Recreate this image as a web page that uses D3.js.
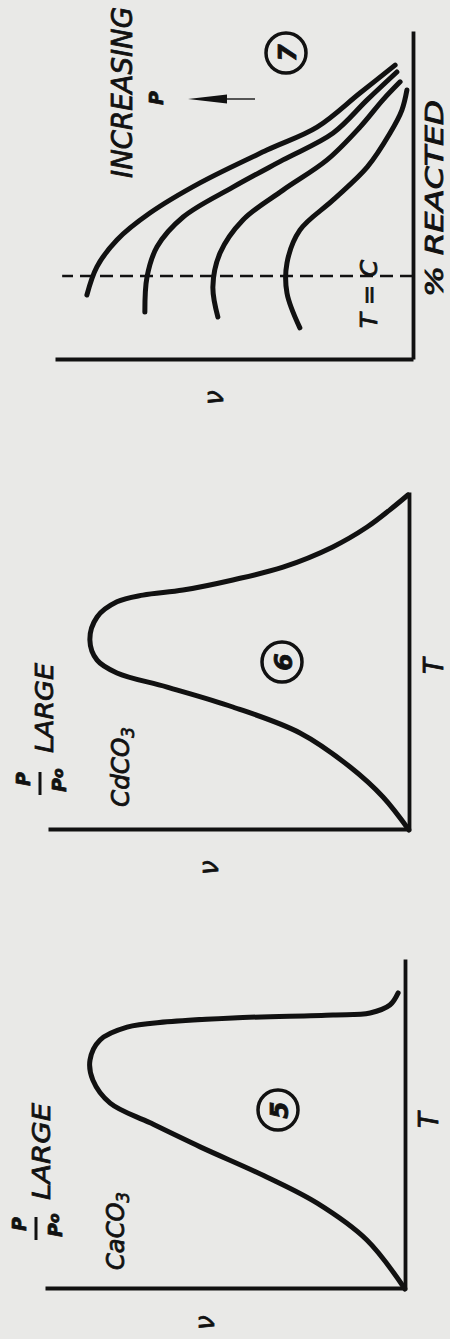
<!DOCTYPE html>
<html>
  <head>
    <meta charset="utf-8">
    <style>
      body { margin: 0; background: #e9e9e7; }
      svg { display: block; }
      .axis path { stroke: #111; stroke-width: 3.8; fill: none; }
      .curve { stroke: #111; stroke-width: 5; fill: none; stroke-linecap: round; }
      .lbl { font-family: "DejaVu Sans", sans-serif; font-style: italic; fill: #111; stroke: #111; stroke-width: 0.8; }
    </style>
    <script src="https://d3js.org/d3.v7.min.js"></script>
  </head>
  <body>
    <svg id="chart" width="450" height="1339"></svg>

    <script>
      // both axes in arbitrary units 0..100
      // panel 5: CaCO3, v against T
      var caT = [0, 14.9, 26.1, 34.0, 43.2, 50.5, 56.5, 63.5, 69.6, 75.7, 79.6, 81.2, 82.4, 83.3, 83.9, 86.3, 90.0];
      var caV = [0, 10.6, 24.4, 38.3, 56.9, 70.8, 81.9, 86.7, 87.5, 84.7, 77.2, 66.1, 47.8, 20.0, 9.7, 4.2, 1.9];
      // panel 6: CdCO3, v against T
      var cdT = [0, 9.8, 18.7, 28.8, 36.5, 42.4, 46.6, 50.4, 56.4, 63.2, 67.7, 69.7, 71.2, 74.2, 78.0, 84.0, 89.9, 95.0, 99.4];
      var cdV = [0, 7.2, 16.3, 30.2, 48.8, 67.0, 80.9, 86.4, 88.4, 86.4, 80.9, 73.7, 62.6, 48.8, 34.9, 21.1, 11.6, 5.3, 0.3];
      // panel 7: v against % reacted, one curve per pressure (lowest p first)
      var reacted = [
        [19.8, 28.4, 36.6, 44.8, 54.0, 64.0, 71.0, 81.4, 89.9],
        [14.6, 25.3, 34.5, 43.6, 52.7, 61.0, 69.2, 79.3, 87.8],
        [13.1, 22.3, 32.6, 42.7, 51.8, 61.0, 71.0, 79.3, 84.8],
        [9.8, 20.4, 29.6, 39.6, 48.8, 58.8, 69.2, 76.2, 82.3]
      ];
      var rateV = [
        [91.1, 88.3, 82.7, 73.5, 59.5, 40.8, 26.8, 14.8, 5.0],
        [74.9, 74.3, 71.5, 64.2, 50.3, 36.3, 22.3, 12.8, 4.5],
        [54.5, 55.9, 53.9, 47.5, 36.3, 24.0, 14.8, 8.4, 3.6],
        [31.6, 35.2, 35.2, 31.6, 22.3, 12.8, 6.4, 3.1, 1.7]
      ];
      var tConst = 25.6;   // T = C line, % reacted
      var tConstTop = 98;

      var svg = d3.select("#chart");

      // each panel is drawn upright and then turned a quarter turn, as printed
      function makePanel(ox, oy, tLen, vLen) {
        var g = svg.append("g").attr("transform", "translate(" + ox + "," + oy + ") rotate(-90)");
        var x = d3.scaleLinear().domain([0, 100]).range([0, tLen]);
        var y = d3.scaleLinear().domain([0, 100]).range([0, -vLen]);
        g.append("g").attr("class", "axis")
          .call(d3.axisBottom(x).tickValues([]).tickSizeOuter(0));
        g.append("g").attr("class", "axis")
          .call(d3.axisLeft(y).tickValues([]).tickSizeOuter(0));
        return { g: g, x: x, y: y };
      }

      function drawCurve(p, xs, ys) {
        var line = d3.line()
          .x(function(d) { return p.x(d[0]); })
          .y(function(d) { return p.y(d[1]); })
          .curve(d3.curveCatmullRom.alpha(0.5));
        p.g.append("path").attr("class", "curve").attr("d", line(d3.zip(xs, ys)));
      }

      function label(g, txt, x, y, size, len) {
        var t = g.append("text").attr("class", "lbl")
          .attr("x", x).attr("y", y)
          .style("font-size", size + "px")
          .text(txt);
        if (len) t.attr("textLength", len).attr("lengthAdjust", "spacingAndGlyphs");
        return t;
      }

      function circled(g, n, x, y) {
        g.append("circle").attr("cx", x).attr("cy", y).attr("r", 20)
          .attr("fill", "none").attr("stroke", "#111").attr("stroke-width", 3.5);
        label(g, n, x, y + 1, 25).attr("text-anchor", "middle")
          .attr("dominant-baseline", "central").style("font-weight", "bold");
      }

      function ratio(g, x0) {
        label(g, "P", x0 + 9, -379, 19).style("font-weight", "bold");
        g.append("line").attr("x1", x0).attr("x2", x0 + 23)
          .attr("y1", -369).attr("y2", -369)
          .attr("stroke", "#111").attr("stroke-width", 3);
        var t = label(g, "P", x0 + 3, -343, 19).style("font-weight", "bold");
        t.append("tspan").attr("dy", -3).style("font-size", "14px").text("o");
      }

      function formula(g, txt, x, y, len) {
        var t = label(g, txt, x, y, 25, len);
        t.append("tspan").attr("dy", 5).style("font-size", "17px").text("3");
      }

      // panel 5
      var p5 = makePanel(405, 1289, 329, 360);
      drawCurve(p5, caT, caV);
      label(p5.g, "T", 161, 33, 26);
      label(p5.g, "ν", -41, -191, 26);
      circled(p5.g, "5", 179, -127);
      formula(p5.g, "CaCO", 19, -281, 78);
      label(p5.g, "LARGE", 89, -355, 25, 97);
      ratio(p5.g, 49);

      // panel 6
      var p6 = makePanel(409, 830, 337, 361);
      drawCurve(p6, cdT, cdV);
      label(p6.g, "T", 156, 34, 26);
      label(p6.g, "ν", -45, -191, 26);
      circled(p6.g, "6", 168, -127);
      formula(p6.g, "CdCO", 23, -280, 80);
      label(p6.g, "LARGE", 77, -356, 25, 90);
      ratio(p6.g, 35);

      // panel 7
      var p7 = makePanel(413, 360, 328, 358);
      reacted.forEach(function(xs, i) { drawCurve(p7, xs, rateV[i]); });
      p7.g.append("line")
        .attr("x1", p7.x(tConst)).attr("x2", p7.x(tConst))
        .attr("y1", p7.y(0)).attr("y2", p7.y(tConstTop))
        .attr("stroke", "#111").attr("stroke-width", 2.4)
        .attr("stroke-dasharray", "13,7");
      label(p7.g, "T = C", 32, -36, 23, 68);
      label(p7.g, "% REACTED", 63, 30, 24, 197);
      label(p7.g, "INCREASING", 182, -281, 28, 171);
      label(p7.g, "P", 255, -250, 19).style("font-weight", "bold");
      label(p7.g, "ν", -45, -190, 26);
      circled(p7.g, "7", 307, -127);
      // arrow
      p7.g.append("line").attr("x1", 261).attr("x2", 261).attr("y1", -186).attr("y2", -158)
        .attr("stroke", "#555").attr("stroke-width", 2);
      p7.g.append("path").attr("d", "M261,-225 L265.5,-186 L256.5,-186 Z").attr("fill", "#111");
    </script>
  </body>
</html>
